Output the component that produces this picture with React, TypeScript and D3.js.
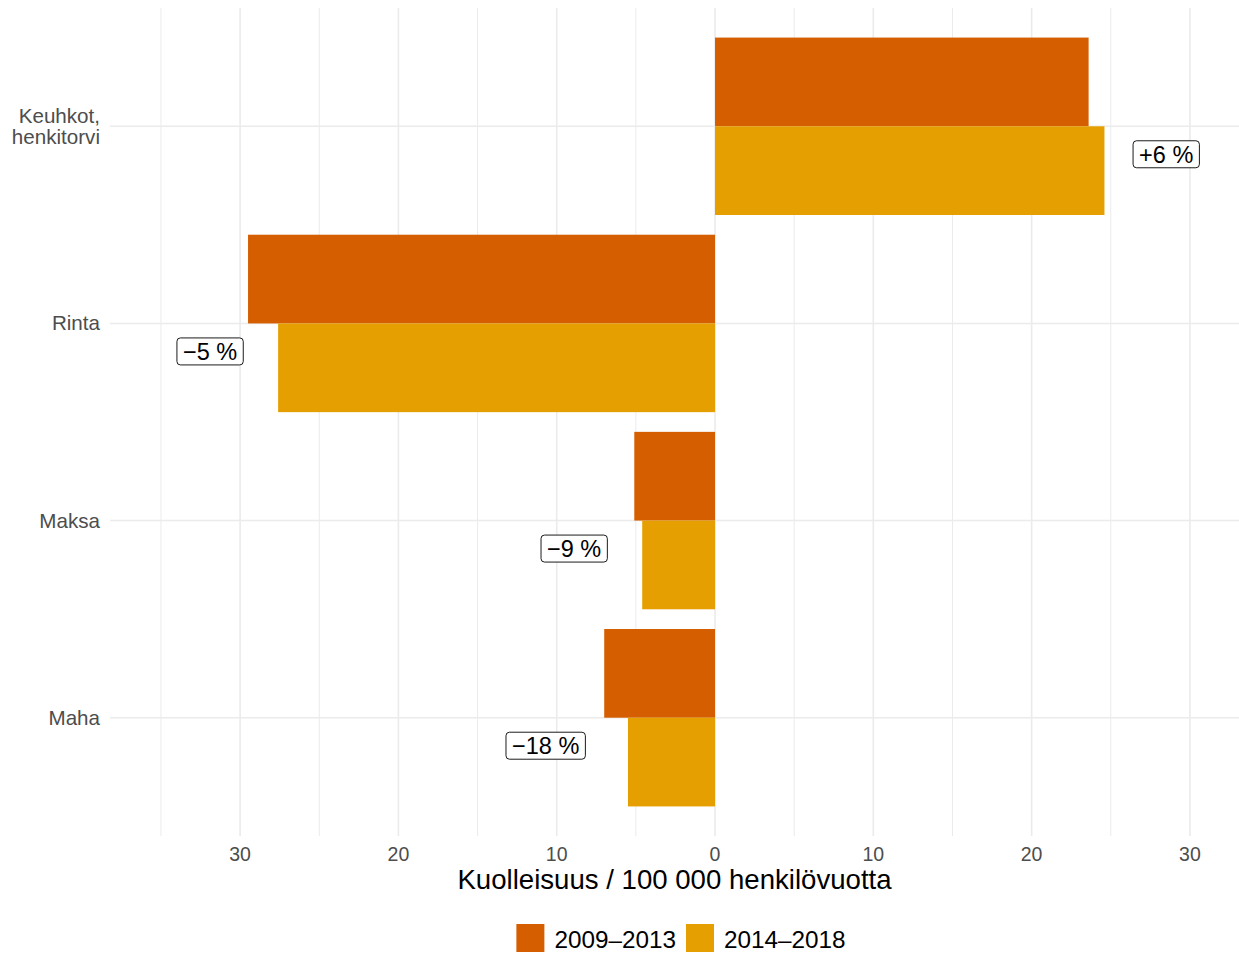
import React, { useEffect, useRef } from "react";
import * as d3 from "d3";

const categories = ["Keuhkot,\nhenkitorvi", "Rinta", "Maksa", "Maha"];
const seriesNames = ["2009–2013", "2014–2018"];
const values2009 = [23.6, -29.5, -5.1, -7.0];
const values2014 = [24.6, -27.6, -4.6, -5.5];
const changeLabels = ["+6 %", "−5 %", "−9 %", "−18 %"];
const labelX = [28.5, -31.9, -8.9, -10.7];
const xTicks = [-30, -20, -10, 0, 10, 20, 30];
const xMinorTicks = [-35, -25, -15, -5, 5, 15, 25];
const xTitle = "Kuolleisuus / 100 000 henkilövuotta";
const colors = ["#D55E00", "#E69F00"];

const W = 1239;
const H = 955;
const FONT = "'Liberation Sans', Arial, Helvetica, sans-serif";

export default function App() {
  const ref = useRef<SVGSVGElement | null>(null);

  useEffect(() => {
    const svg = d3.select(ref.current);
    svg.selectAll("*").remove();

    const panel = { left: 110, right: 1239, top: 8, bottom: 836 };
    const x = d3.scaleLinear().domain([-38.22, 33.1]).range([panel.left, panel.right]);
    const y = d3
      .scaleBand<string>()
      .domain(categories)
      .range([panel.top, panel.bottom])
      .paddingInner(0)
      .paddingOuter(0.1);
    const step = y.step();
    const inner = d3.scaleBand<string>().domain(seriesNames).range([0, step * 0.9]);
    const center = (c: string) => (y(c) as number) + y.bandwidth() / 2;

    const g = svg.append("g");

    // gridlines
    g.selectAll("line.minor")
      .data(xMinorTicks)
      .join("line")
      .attr("x1", (d) => x(d))
      .attr("x2", (d) => x(d))
      .attr("y1", panel.top)
      .attr("y2", panel.bottom)
      .attr("stroke", "#EBEBEB")
      .attr("stroke-width", 1.0);
    g.selectAll("line.major")
      .data(xTicks)
      .join("line")
      .attr("x1", (d) => x(d))
      .attr("x2", (d) => x(d))
      .attr("y1", panel.top)
      .attr("y2", panel.bottom)
      .attr("stroke", "#EBEBEB")
      .attr("stroke-width", 1.6);
    g.append("g")
      .selectAll("line")
      .data(categories)
      .join("line")
      .attr("x1", panel.left)
      .attr("x2", panel.right)
      .attr("y1", (d) => center(d))
      .attr("y2", (d) => center(d))
      .attr("stroke", "#EBEBEB")
      .attr("stroke-width", 1.6);

    // bars
    const allSeries = [values2009, values2014];
    allSeries.forEach((vals, si) => {
      g.append("g")
        .selectAll("rect")
        .data(categories)
        .join("rect")
        .attr("x", (_, i) => x(Math.min(0, vals[i])))
        .attr("width", (_, i) => Math.abs(x(vals[i]) - x(0)))
        .attr("y", (c) => center(c) - step * 0.45 + (inner(seriesNames[si]) as number))
        .attr("height", inner.bandwidth())
        .attr("fill", colors[si]);
    });

    // labels
    categories.forEach((c, i) => {
      const lg = g.append("g");
      const cy = center(c) + step * 0.142;
      const t = lg
        .append("text")
        .attr("x", x(labelX[i]))
        .attr("y", cy)
        .attr("text-anchor", "middle")
        .attr("dy", "0.36em")
        .attr("font-family", FONT)
        .attr("font-size", 23.5)
        .attr("fill", "#000")
        .text(changeLabels[i]);
      const bb = (t.node() as SVGTextElement).getBBox();
      const padX = 6;
      const h = 27;
      lg.insert("rect", "text")
        .attr("x", bb.x - padX)
        .attr("y", cy - h / 2)
        .attr("width", bb.width + padX * 2)
        .attr("height", h)
        .attr("rx", 3.5)
        .attr("fill", "#fff")
        .attr("stroke", "#000")
        .attr("stroke-width", 0.9);
    });

    // y axis labels
    categories.forEach((c) => {
      const lines = c.split("\n");
      const lh = 21;
      const cy = center(c);
      lines.forEach((ln, li) => {
        g.append("text")
          .attr("x", 100)
          .attr("y", cy + 7 - ((lines.length - 1) * lh) / 2 + li * lh)
          .attr("text-anchor", "end")
          .attr("font-family", FONT)
          .attr("font-size", 20.6)
          .attr("fill", "#4D4D4D")
          .text(ln);
      });
    });

    // x axis tick labels
    g.append("g")
      .selectAll("text")
      .data(xTicks)
      .join("text")
      .attr("x", (d) => x(d))
      .attr("y", 860.5)
      .attr("text-anchor", "middle")
      .attr("font-family", FONT)
      .attr("font-size", 19.5)
      .attr("fill", "#4D4D4D")
      .text((d) => String(Math.abs(d)));

    // x title
    g.append("text")
      .attr("x", (panel.left + panel.right) / 2)
      .attr("y", 889)
      .attr("text-anchor", "middle")
      .attr("font-family", FONT)
      .attr("font-size", 27.6)
      .attr("fill", "#000")
      .text(xTitle);

    // legend
    const lg = g.append("g");
    const keySize = 28;
    const keyGap = 10;
    const itemGap = 10;
    const texts = seriesNames.map((s) =>
      lg
        .append("text")
        .attr("font-family", FONT)
        .attr("font-size", 24.3)
        .attr("fill", "#000")
        .attr("y", 948)
        .text(s)
    );
    const widths = texts.map((t) => (t.node() as SVGTextElement).getComputedTextLength());
    const total =
      widths.reduce((a, b) => a + b, 0) + seriesNames.length * (keySize + keyGap) + itemGap * (seriesNames.length - 1);
    let cx = 681 - total / 2;
    seriesNames.forEach((s, i) => {
      lg.append("rect")
        .attr("x", cx)
        .attr("y", 924)
        .attr("width", keySize)
        .attr("height", keySize)
        .attr("fill", colors[i]);
      cx += keySize + keyGap;
      texts[i].attr("x", cx);
      cx += widths[i] + itemGap;
    });
  }, []);

  return (
    <svg
      ref={ref}
      width={W}
      height={H}
      style={{ position: "absolute", left: 0, top: 0, background: "#fff", display: "block" }}
    />
  );
}
